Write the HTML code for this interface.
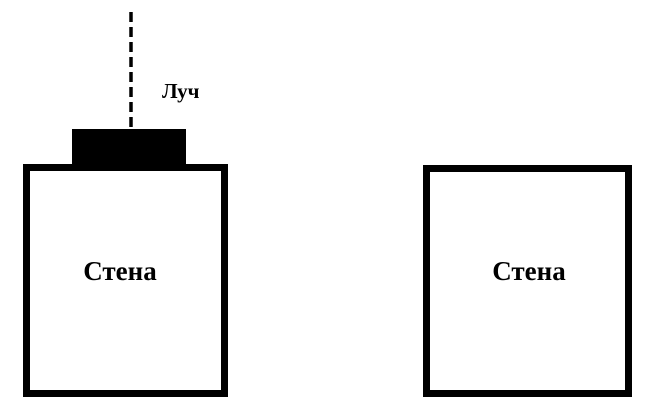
<!DOCTYPE html>
<html><head><meta charset="utf-8"><style>
html,body{margin:0;padding:0;background:#fff;}
svg{display:block}
text{font-family:"Liberation Serif",serif;font-weight:bold;fill:#000}
</style></head><body>
<svg width="659" height="420" viewBox="0 0 659 420" xmlns="http://www.w3.org/2000/svg">
<rect x="26.5" y="167.5" width="198" height="226" fill="none" stroke="#000" stroke-width="7"/>
<rect x="426.5" y="168.5" width="202" height="225" fill="none" stroke="#000" stroke-width="7"/>
<rect x="72" y="129" width="114" height="37" fill="#000"/>
<line x1="131" y1="12" x2="131" y2="130" stroke="#000" stroke-width="3.5" stroke-dasharray="10,5"/>
<text x="162" y="98" font-size="21">Луч</text>
<text x="120" y="280" font-size="27" text-anchor="middle">Стена</text>
<text x="529" y="280" font-size="27" text-anchor="middle">Стена</text>
</svg>
</body></html>
